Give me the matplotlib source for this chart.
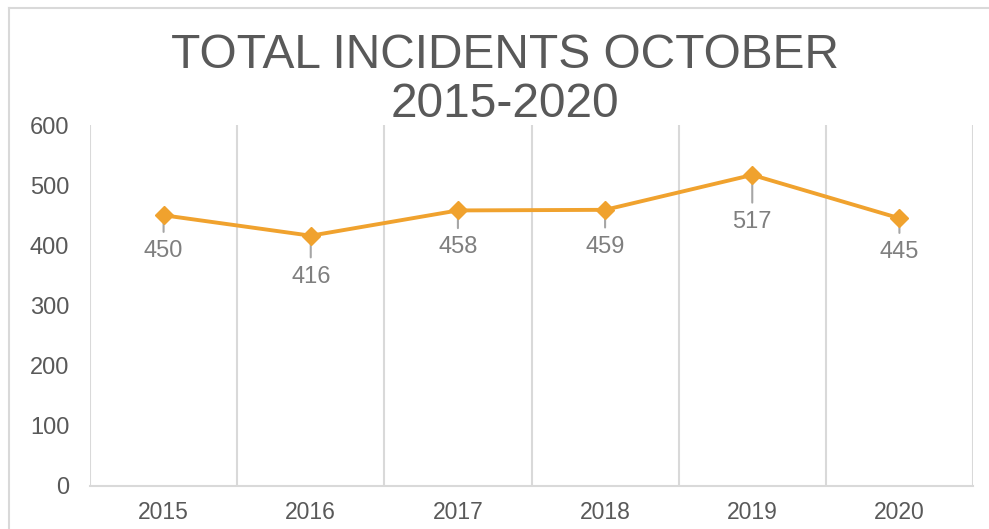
import matplotlib
matplotlib.use("Agg")
import matplotlib.pyplot as plt
from matplotlib.lines import Line2D
import numpy as np

plt.rcParams['font.family'] = ['Liberation Sans', 'DejaVu Sans']

# ---- data ----
years = ["2015", "2016", "2017", "2018", "2019", "2020"]
incidents = [450, 416, 458, 459, 517, 445]
title_lines = ["TOTAL INCIDENTS OCTOBER", "2015-2020"]
y_ticks = [0, 100, 200, 300, 400, 500, 600]

# ---- style ----
line_color = "#F0A22E"
grid_color = "#D9D9D9"
text_dark = "#595959"
label_gray = "#7F7F7F"
label_offsets_px = [36, 41, 37, 37, 47, 34]   # label distance below point (px)

W, H = 989, 529
fig = plt.figure(figsize=(W / 100, H / 100), dpi=100)
ax = fig.add_axes([90 / W, 1 - 486 / H, (973 - 90) / W, (486 - 125) / H])

x = np.arange(len(years))
ax.plot(x, incidents, color=line_color, lw=2.8, marker='D', markersize=9,
        markerfacecolor=line_color, markeredgecolor=line_color, zorder=4,
        solid_joinstyle='round')

for xi, v, off in zip(x, incidents, label_offsets_px):
    off_pt = off * 0.72
    ax.annotate(str(v), xy=(xi, v), xytext=(0, -off_pt), textcoords='offset points',
                ha='center', va='center', fontsize=17, color=label_gray,
                arrowprops=dict(arrowstyle='-', color="#A6A6A6", lw=1.5,
                                shrinkA=4, shrinkB=0), zorder=3)

ax.set_xlim(-0.5, len(years) - 0.5)
ax.set_ylim(y_ticks[0], y_ticks[-1])
ax.set_yticks(y_ticks)
ax.set_yticklabels([str(t) for t in y_ticks], fontsize=17, color=text_dark)
ax.set_xticks(x)
ax.set_xticklabels(years, fontsize=16.5, color=text_dark)
ax.set_xticks(np.arange(-0.5, len(years)), minor=True)
ax.tick_params(axis='both', which='both', length=0)
ax.tick_params(axis='y', pad=15)
ax.tick_params(axis='x', pad=11)
ax.grid(which='minor', axis='x', color=grid_color, lw=1.5)
ax.grid(which='major', visible=False)
for s in ['left', 'right', 'top']:
    ax.spines[s].set_visible(False)
ax.spines['bottom'].set_color(grid_color)
ax.spines['bottom'].set_linewidth(1.5)

# title
fig.text(505 / W, 1 - 68 / H, title_lines[0], ha='center', va='baseline',
         fontsize=34.5, color=text_dark)
fig.text(505 / W, 1 - 117 / H, title_lines[1], ha='center', va='baseline',
         fontsize=34.5, color=text_dark)

# outer frame
fig.add_artist(Line2D([9 / W, 1], [1 - 8 / H, 1 - 8 / H], transform=fig.transFigure,
                      color=grid_color, lw=1.5))
fig.add_artist(Line2D([9 / W, 9 / W], [0, 1 - 8 / H], transform=fig.transFigure,
                      color=grid_color, lw=1.5))

fig.savefig("out.png", dpi=100, facecolor='white')
